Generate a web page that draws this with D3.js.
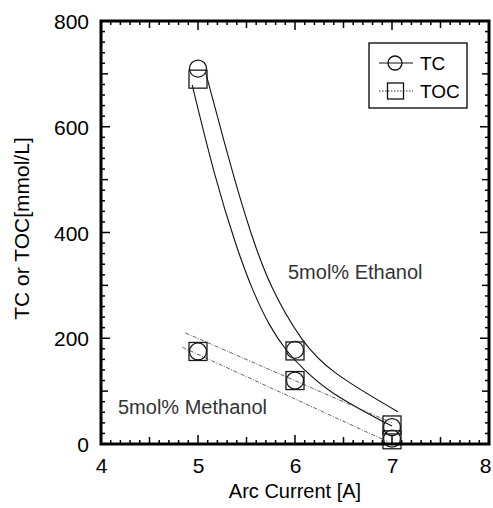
<!DOCTYPE html>
<html>
<head>
<meta charset="utf-8">
<script src="https://cdn.jsdelivr.net/npm/d3@7"></script>
<style>
  html, body { margin: 0; padding: 0; background: #fff; }
  svg { display: block; }
  text { font-family: "Liberation Sans", Arial, Helvetica, sans-serif; }
</style>
</head>
<body>
<svg id="chart" width="493" height="508"></svg>
<script>
// Measured points: arc current [A] vs carbon content [mmol/L]
const currents = [5, 6, 7];
const ethanolTC = [710, 178, 32];
const ethanolTOC = [690, 176, 36];
const methanolTC = [175, 120, 10];
const methanolTOC = [175, 120, 8];

// Fitted trend curves (ethanol) and lines (methanol)
const ethTCFitX = [5.08, 5.36, 5.54, 5.74, 6.07, 6.36, 7.06];
const ethTCFitY = [702, 509, 400, 297, 193, 136, 61];
const ethTOCFitX = [4.94, 5.18, 5.40, 5.56, 5.74, 5.92, 6.07, 6.36, 6.91, 7.0];
const ethTOCFitY = [679, 499, 370, 291, 221, 174, 144, 96, 42, 34];
const metTCFitX = [4.87, 7.0];
const metTCFitY = [210, 40];
const metTOCFitX = [4.84, 6.95];
const metTOCFitY = [183, 5];

// Axis ticks
const xTicks = [4, 5, 6, 7, 8];
const yTicks = [0, 200, 400, 600, 800];
const xMinor = d3.range(40, 81).map(v => v / 10);
const yMinor = d3.range(0, 801, 20);

const svg = d3.select("#chart");
const x = d3.scaleLinear().domain([4, 8]).range([101, 489]);
const y = d3.scaleLinear().domain([0, 800]).range([444, 21]);

const pairs = (xs, ys) => xs.map((v, i) => [v, ys[i]]);
const line = d3.line().x(d => x(d[0])).y(d => y(d[1]));
const smooth = d3.line().x(d => x(d[0])).y(d => y(d[1])).curve(d3.curveBasis);

const plot = svg.append("g");

// Ethanol fitted curves (solid)
[pairs(ethTCFitX, ethTCFitY), pairs(ethTOCFitX, ethTOCFitY)].forEach(pts => {
  plot.append("path").attr("d", smooth(pts))
    .attr("fill", "none").attr("stroke", "#111").attr("stroke-width", 1.1);
});

// Methanol fitted lines (fine dashes)
[pairs(metTCFitX, metTCFitY), pairs(metTOCFitX, metTOCFitY)].forEach(pts => {
  plot.append("path").attr("d", line(pts))
    .attr("fill", "none").attr("stroke", "#555").attr("stroke-width", 0.9)
    .attr("stroke-dasharray", "4,1.5,1,1.5");
});

// Markers: circles for TC, squares for TOC
function circles(vals) {
  plot.selectAll(null).data(pairs(currents, vals)).enter().append("circle")
    .attr("cx", d => x(d[0])).attr("cy", d => y(d[1])).attr("r", 8.5)
    .attr("fill", "none").attr("stroke", "#1a1a1a").attr("stroke-width", 1.3);
}
function squares(vals) {
  plot.selectAll(null).data(pairs(currents, vals)).enter().append("rect")
    .attr("x", d => x(d[0]) - 9).attr("y", d => y(d[1]) - 9)
    .attr("width", 18).attr("height", 18)
    .attr("fill", "none").attr("stroke", "#1a1a1a").attr("stroke-width", 1.3);
}
circles(ethanolTC); squares(ethanolTOC);
circles(methanolTC); squares(methanolTOC);

// Annotations
svg.append("text").attr("x", 288).attr("y", 279).attr("font-size", 20)
  .attr("fill", "#333").text("5mol% Ethanol");
svg.append("text").attr("x", 118).attr("y", 414).attr("font-size", 20)
  .attr("fill", "#333").text("5mol% Methanol");

// Axes: inward ticks on all four sides
function tickLen(v, mid, major) {
  if (Math.abs(v / major - Math.round(v / major)) < 1e-6) return 9;
  if (Math.abs(v / mid - Math.round(v / mid)) < 1e-6) return 7;
  return 4;
}
const axes = svg.append("g").attr("stroke", "#000");
xMinor.forEach(v => {
  const L = tickLen(v, 0.5, 1);
  axes.append("line").attr("x1", x(v)).attr("x2", x(v)).attr("y1", y(0)).attr("y2", y(0) - L).attr("stroke-width", 1.5);
  axes.append("line").attr("x1", x(v)).attr("x2", x(v)).attr("y1", y(800)).attr("y2", y(800) + L).attr("stroke-width", 1.5);
});
yMinor.forEach(v => {
  const L = tickLen(v, 100, 200);
  axes.append("line").attr("y1", y(v)).attr("y2", y(v)).attr("x1", x(4)).attr("x2", x(4) + L).attr("stroke-width", 1.5);
  axes.append("line").attr("y1", y(v)).attr("y2", y(v)).attr("x1", x(8)).attr("x2", x(8) - L).attr("stroke-width", 1.5);
});

// Axis labels via d3 axes (ticks hidden, labels only)
const xAxis = svg.append("g").attr("transform", `translate(0,${y(0)})`)
  .call(d3.axisBottom(x).tickValues(xTicks).tickSize(0).tickPadding(14).tickFormat(d3.format("d")));
xAxis.select(".domain").remove();
xAxis.selectAll("text").attr("font-size", 21).attr("fill", "#000")
  .style("font-family", "'Liberation Sans', Arial, sans-serif")
  .attr("dx", d => d === 8 ? -4 : 0);
const yAxis = svg.append("g").attr("transform", `translate(${x(4)},0)`)
  .call(d3.axisLeft(y).tickValues(yTicks).tickSize(0).tickPadding(12).tickFormat(d3.format("d")));
yAxis.select(".domain").remove();
yAxis.selectAll("text").attr("font-size", 21).attr("fill", "#000").attr("dy", "0.36em")
  .style("font-family", "'Liberation Sans', Arial, sans-serif");

// Frame
svg.append("rect").attr("x", x(4)).attr("y", y(800))
  .attr("width", x(8) - x(4)).attr("height", y(0) - y(800))
  .attr("fill", "none").attr("stroke", "#000").attr("stroke-width", 3);

// Axis titles
svg.append("text").attr("x", (x(4) + x(8)) / 2).attr("y", 498)
  .attr("text-anchor", "middle").attr("font-size", 20).text("Arc Current [A]");
svg.append("text").attr("transform", `translate(29,${(y(0) + y(800)) / 2 - 4}) rotate(-90)`)
  .attr("text-anchor", "middle").attr("font-size", 21).text("TC or TOC[mmol/L]");

// Legend
const lg = svg.append("g");
lg.append("rect").attr("x", 369).attr("y", 43).attr("width", 98).attr("height", 65)
  .attr("fill", "#fff").attr("stroke", "#000").attr("stroke-width", 1.3);
lg.append("line").attr("x1", 379).attr("x2", 413).attr("y1", 63).attr("y2", 63)
  .attr("stroke", "#111").attr("stroke-width", 1);
lg.append("circle").attr("cx", 395).attr("cy", 63).attr("r", 7)
  .attr("fill", "none").attr("stroke", "#111").attr("stroke-width", 1.3);
lg.append("text").attr("x", 420).attr("y", 70).attr("font-size", 19).text("TC");
lg.append("line").attr("x1", 379).attr("x2", 413).attr("y1", 91).attr("y2", 91)
  .attr("stroke", "#333").attr("stroke-width", 1).attr("stroke-dasharray", "1.5,1.5");
lg.append("rect").attr("x", 387.5).attr("y", 83).attr("width", 16).attr("height", 16)
  .attr("fill", "none").attr("stroke", "#111").attr("stroke-width", 1.3);
lg.append("text").attr("x", 420).attr("y", 98).attr("font-size", 19).text("TOC");
</script>
</body>
</html>
